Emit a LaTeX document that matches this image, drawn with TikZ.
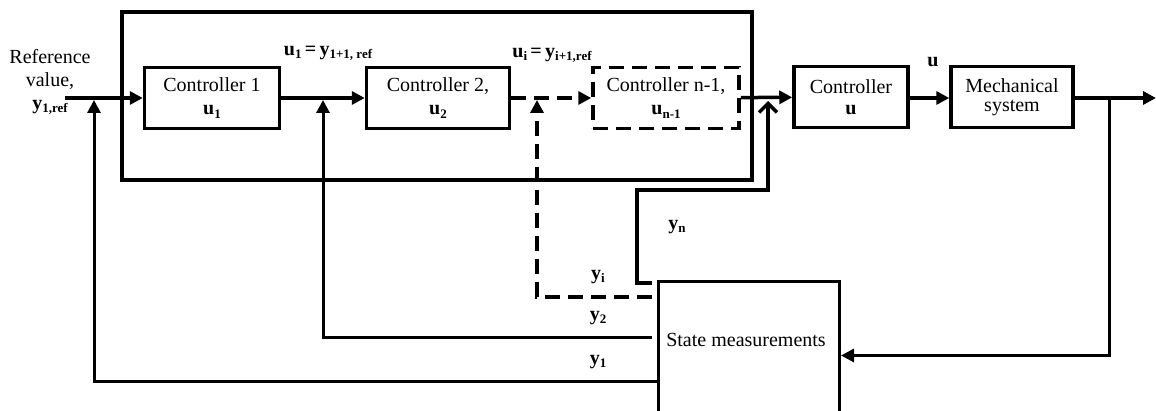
\documentclass[tikz,border=0pt]{standalone}
\usepackage{fontspec}
\setmainfont{Liberation Serif}
\usetikzlibrary{arrows.meta}
\newcommand{\sbs}[1]{\raisebox{-0.35ex}{\fontsize{13}{14}\selectfont #1}}

\begin{document}
\begin{tikzpicture}[x=1pt, y=-1pt, line width=3.5pt,
    font=\fontsize{20}{23}\selectfont,
    blk/.style={draw, rectangle, minimum height=61pt, align=center, inner sep=0pt},
    lowtxt/.style={execute at begin node={\rule{0pt}{21pt}}},
    tip/.style={-{Triangle[length=13pt,width=13pt]}},
    fb/.style={line width=3pt},
    dsh/.style={dash pattern=on 15pt off 8pt},
    lbl/.style={font=\fontsize{20}{23}\selectfont\bfseries}]

    \clip (0,0) rectangle (1156,411);

    % Cascade of controllers
    \node[draw, minimum width=630pt, minimum height=168pt, inner sep=0pt] (grp) at (437,96) {};
    \node[blk, lowtxt, minimum width=135pt] (ctrlA) at (212,98) {Controller 1\\\textbf{u\sbs{1}}};
    \node[blk, lowtxt, minimum width=143pt] (ctrlB) at (438,98) {Controller 2,\\\textbf{u\sbs{2}}};
    \node[blk, lowtxt, dsh, minimum width=146pt] (ctrlN) at (666,98) {Controller n-1,\\\textbf{u\sbs{n-1}}};
    \node[blk, minimum width=114pt, font=\fontsize{20}{21}\selectfont] (ctrlU) at (851,97) {Controller\\\textbf{u}};
    \node[blk, minimum width=122pt, font=\fontsize{20}{19}\selectfont] (mech) at (1012,97) {Mechanical\\system};
    \node[draw, fb, minimum width=181pt, minimum height=148pt, anchor=north west] (meas) at (657,280) {};
    \node (meastxt) at (746,340) {State measurements};

    \node[align=center] (refin) at (50,82) {Reference\\value,\\\textbf{y\sbs{1,ref}}};

    % Signal labels
    \node[lbl] (lblA) at (328,53) {u\sbs{1}\,=\,y\sbs{1+1, ref}};
    \node[lbl] (lblB) at (552,55) {u\sbs{i}\,=\,y\sbs{i+1,ref}};
    \node[lbl] (lblU) at (933,62) {u};
    \foreach \nm/\sb/\xx/\yy in {lblN/n/677/227, lblI/i/598/277, lblTwo/2/598/318, lblOne/1/598/362}
      \node[lbl] (\nm) at (\xx,\yy) {y\sbs{\sb}};

    % Points on the lines
    \coordinate (refpt) at (65,98);
    \coordinate (outpt) at (1156,98);
    \coordinate (br) at (1109,98);
    \coordinate (jA) at (94,100);
    \coordinate (jB) at (323,100);
    \coordinate (jC) at (537,100);
    \coordinate (jD) at (768,101);
    \coordinate (tapA) at (657,381);
    \coordinate (tapB) at (652,338);
    \coordinate (tapC) at (652,297);
    \coordinate (tapD) at (652,283);

    % Forward path
    \draw[tip] (refpt) -- (ctrlA);
    \draw[tip] (ctrlA) -- (ctrlB);
    \draw[tip, dsh] (ctrlB) -- (ctrlN);
    \draw[tip] (ctrlN) -- (ctrlU);
    \draw[tip] (ctrlU.east |- br) -- (mech.west |- br);
    \draw[tip] (mech.east |- br) -- (outpt);

    % Feedback paths
    \draw[tip, fb] (br) |- (meas.east);
    \draw[tip, fb] (tapA) -| (jA);
    \draw[tip, fb] (tapB) -| (jB);
    \draw[tip, dsh] (tapC) -| (jC);
    \draw[-{Straight Barb[length=9pt,width=18pt]}] (tapD) -- (637,283) -- (637,190) -| (jD);
\end{tikzpicture}
\end{document}
